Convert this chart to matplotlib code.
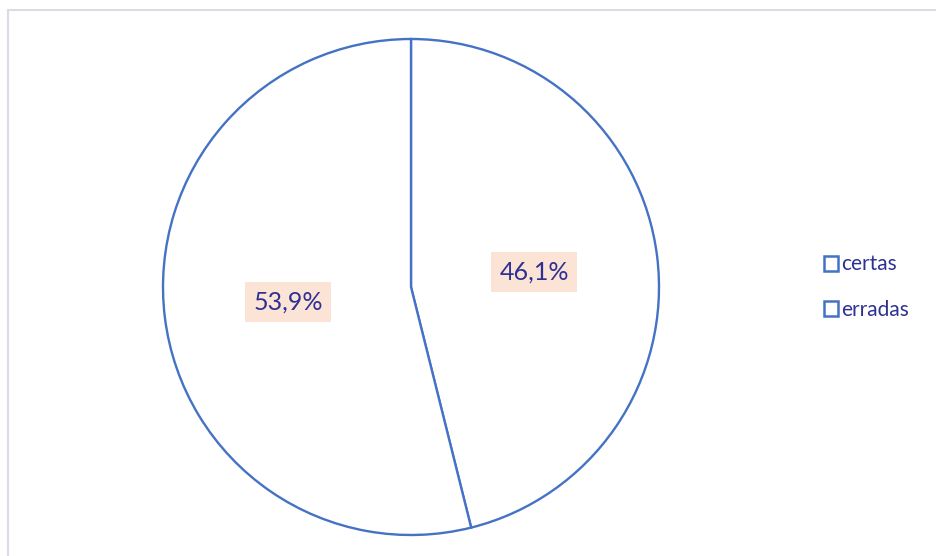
import matplotlib.pyplot as plt
from matplotlib.patches import Rectangle, Patch

categorias = ['certas', 'erradas']
valores = [46.1, 53.9]

AZUL = '#4472c4'
TEXTO = '#2e3192'
FUNDO_ROTULO = '#fbe3d6'

fig = plt.figure(figsize=(9.36, 5.56), dpi=100)

# moldura cinza clara do gráfico
fig.patches.append(Rectangle((8 / 936, -0.01), 1.0, 1 - 10 / 556 + 0.01,
                             transform=fig.transFigure, fill=False,
                             edgecolor='#d9dde3', linewidth=1.5))

ax = fig.add_axes([163 / 936, 21 / 556, 496 / 936, 496 / 556])
ax.set_aspect('equal')

wedges, textos, pcts = ax.pie(
    valores, startangle=90, counterclock=False, radius=1.0,
    colors=['white', 'white'],
    wedgeprops=dict(edgecolor=AZUL, linewidth=1.7),
    autopct=lambda p: f'{p:.1f}'.replace('.', ',') + '%',
    pctdistance=0.5,
)
for t in pcts:
    t.set_color(TEXTO)
    t.set_fontsize(18)
    t.set_family('Lato')
    t.set_bbox(dict(facecolor=FUNDO_ROTULO, edgecolor='none', pad=6))

ax.set_xlim(-1, 1)
ax.set_ylim(-1, 1)

handles = [Patch(facecolor='white', edgecolor=AZUL, linewidth=1.8, label=c)
           for c in categorias]
leg = fig.legend(handles=handles, loc='center left',
                 bbox_to_anchor=(805 / 936, 1 - 287 / 556),
                 frameon=False, handlelength=0.7, handleheight=0.7,
                 handletextpad=0.15, labelspacing=1.2,
                 prop=dict(family='Lato', size=15))
for t in leg.get_texts():
    t.set_color(TEXTO)

fig.savefig('out.png', dpi=100)
